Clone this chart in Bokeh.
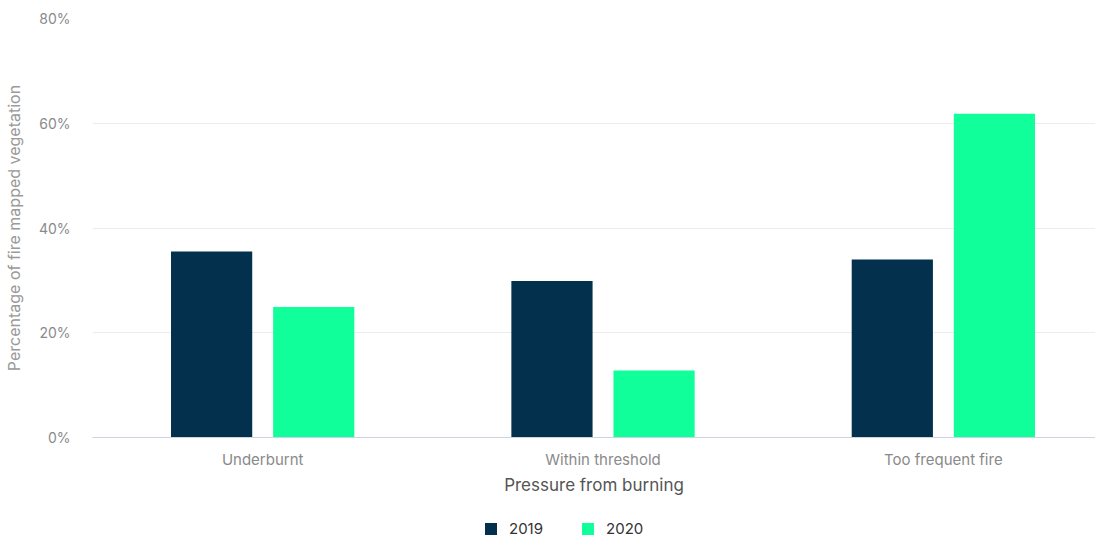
from bokeh.plotting import figure
from bokeh.layouts import column
from bokeh.models import ColumnDataSource, Range1d, FixedTicker, PrintfTickFormatter, Legend, LegendItem
from bokeh.transform import dodge
from bokeh.embed import file_html
from bokeh.resources import INLINE

categories = ["Underburnt", "Within threshold", "Too frequent fire"]
series = ["2019", "2020"]
values_2019 = [35.5, 29.9, 34.0]
values_2020 = [24.9, 12.8, 61.8]
y_ticks = [0, 20, 40, 60, 80]

FONT = "Inter"
COLORS = ["#02304d", "#10ff9a"]

src = ColumnDataSource(dict(x=list(range(len(categories))), v19=values_2019, v20=values_2020))

p = figure(width=1095, height=518, output_backend="svg", toolbar_location=None,
           x_range=Range1d(-0.5, 2.447), y_range=Range1d(0, 80),
           min_border_left=82, min_border_right=0, min_border_top=18, min_border_bottom=81)
p.outline_line_color = None
p.background_fill_color = "white"

p.vbar(x=dodge("x", -0.15, range=p.x_range), top="v19", width=0.2386, source=src,
       fill_color=COLORS[0], line_color=None)
p.vbar(x=dodge("x", 0.15, range=p.x_range), top="v20", width=0.2386, source=src,
       fill_color=COLORS[1], line_color=None)

# x axis
xa = p.xaxis[0]
xa.ticker = FixedTicker(ticks=list(range(len(categories))))
xa.major_label_overrides = {i: c for i, c in enumerate(categories)}
xa.major_tick_line_color = None
xa.minor_tick_line_color = None
xa.major_tick_out = 0
xa.major_label_standoff = 12
xa.axis_line_color = "#cdd3e0"
xa.axis_line_width = 1
xa.major_label_text_font = FONT
xa.major_label_text_font_size = "15px"
xa.major_label_text_color = "#8a8a8a"
xa.axis_label = "Pressure from burning"
xa.axis_label_text_font = FONT
xa.axis_label_text_font_size = "17px"
xa.axis_label_text_font_style = "normal"
xa.axis_label_text_color = "#555555"
xa.axis_label_standoff = 3

# y axis
ya = p.yaxis[0]
ya.ticker = FixedTicker(ticks=y_ticks)
ya.formatter = PrintfTickFormatter(format="%d%%")
ya.axis_line_color = None
ya.major_tick_line_color = None
ya.minor_tick_line_color = None
ya.major_tick_out = 0
ya.major_label_standoff = 22
ya.major_label_text_font = FONT
ya.major_label_text_font_size = "14px"
ya.major_label_text_color = "#8a8a8a"
ya.axis_label = "Percentage of fire mapped vegetation"
ya.axis_label_text_font = FONT
ya.axis_label_text_font_size = "16px"
ya.axis_label_text_font_style = "normal"
ya.axis_label_text_color = "#9a9a9a"
ya.axis_label_standoff = 12

p.xgrid.grid_line_color = None
p.ygrid.ticker = FixedTicker(ticks=y_ticks[1:])
p.ygrid.grid_line_color = "#ececec"
p.ygrid.grid_line_width = 1

# legend strip
lg = figure(width=1095, height=20, output_backend="svg", toolbar_location=None,
            x_range=Range1d(0, 1), y_range=Range1d(0, 1),
            min_border_left=0, min_border_right=0, min_border_top=0, min_border_bottom=0)
lg.axis.visible = False
lg.grid.visible = False
lg.outline_line_color = None
items = []
for name, col in zip(series, COLORS):
    r = lg.vbar(x=[-10], top=[0], width=0.1, fill_color=col, line_color=None)
    items.append(LegendItem(label=name, renderers=[r]))
legend = Legend(items=items, location=(391, 0), orientation="horizontal",
                border_line_color=None, background_fill_alpha=0,
                label_text_font=FONT, label_text_font_size="15px", label_text_color="#333333",
                glyph_width=15, glyph_height=15, label_standoff=11, spacing=37, padding=2, margin=0)
lg.add_layout(legend, "center")

layout = column(p, lg, spacing=0)
open("out.html", "w").write(file_html(layout, INLINE))
